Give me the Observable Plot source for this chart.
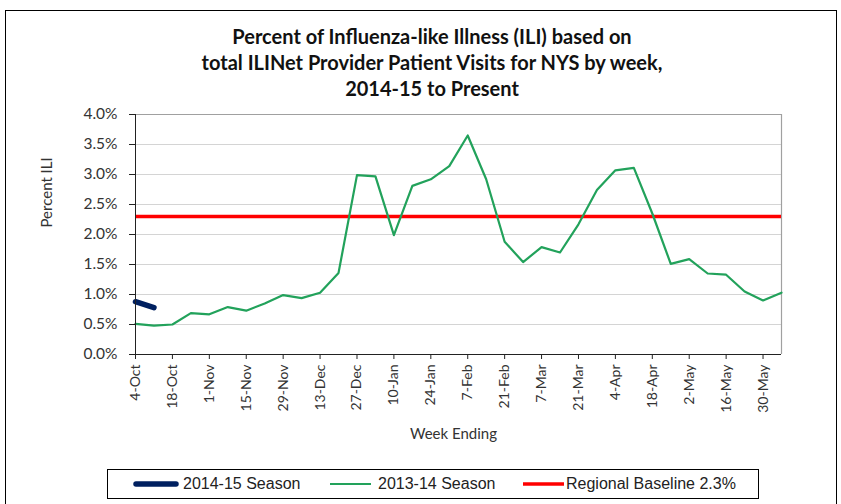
<!DOCTYPE html>
<html>
<head>
<meta charset="utf-8">
<script src="https://cdn.jsdelivr.net/npm/d3@7"></script>
<script src="https://cdn.jsdelivr.net/npm/@observablehq/plot@0.6"></script>
<style>
  html, body { margin: 0; padding: 0; background: #fff; }
  #wrap { position: relative; width: 841px; height: 504px; overflow: hidden; background: #fff; }
  #border { position: absolute; left: 5px; top: 10px; width: 832px; height: 520px; border: 1px solid #000; box-sizing: border-box; }
  #title { position: absolute; left: 0; width: 864px; top: 23px; text-align: center; font-family: Lato, "Open Sans", sans-serif; font-weight: bold; font-size: 20px; line-height: 26px; color: #111; }
  #chart { position: absolute; left: 0; top: 0; }
  #legend { position: absolute; left: 107px; top: 469px; width: 652px; height: 30px; border: 1px solid #000; box-sizing: border-box; font-family: "Liberation Sans", Arial, sans-serif; font-size: 16px; color: #222; }
  .sw { position: absolute; top: 9px; }
  .lt { position: absolute; top: 0; line-height: 28px; white-space: nowrap; }
</style>
</head>
<body>
<div id="wrap">
  <div id="border"></div>
  <div id="chart"></div>
  <div id="title">Percent of Influenza-like Illness (ILI) based on<br>total ILINet Provider Patient Visits for NYS by week,<br>2014-15 to Present</div>
  <div id="legend"></div>
</div>
<script>
// Week-ending categories (x axis)
const weeks = ["4-Oct","11-Oct","18-Oct","25-Oct","1-Nov","8-Nov","15-Nov","22-Nov","29-Nov","6-Dec",
  "13-Dec","20-Dec","27-Dec","3-Jan","10-Jan","17-Jan","24-Jan","31-Jan","7-Feb","14-Feb",
  "21-Feb","28-Feb","7-Mar","14-Mar","21-Mar","28-Mar","4-Apr","11-Apr","18-Apr","25-Apr",
  "2-May","9-May","16-May","23-May","30-May","6-Jun"];
// Tick labels shown on the x axis
const xTickLabels = ["4-Oct","18-Oct","1-Nov","15-Nov","29-Nov","13-Dec","27-Dec","10-Jan","24-Jan",
  "7-Feb","21-Feb","7-Mar","21-Mar","4-Apr","18-Apr","2-May","16-May","30-May"];
// 2013-14 season, percent ILI
const season1314 = [0.51,0.48,0.50,0.69,0.67,0.79,0.73,0.85,0.99,0.94,
  1.03,1.36,2.99,2.97,1.99,2.81,2.92,3.14,3.65,2.92,
  1.88,1.54,1.79,1.70,2.17,2.74,3.07,3.11,2.35,1.51,
  1.59,1.35,1.33,1.05,0.90,1.03];
// 2014-15 season, percent ILI
const season1415 = [0.88, 0.78];
const season1415Weeks = ["4-Oct","11-Oct"];
// Regional baseline
const baseline = [2.3];
// Y ticks
const yTicks = [0,0.5,1.0,1.5,2.0,2.5,3.0,3.5,4.0];

const seriesNames = ["2014-15 Season","2013-14 Season","Regional Baseline 2.3%"];
const colors = { blue: "#002060", green: "#22a25b", red: "#ff0000" };

const t1314 = weeks.map((w, i) => ({week: w, value: season1314[i]}));
const t1415 = season1415Weeks.map((w, i) => ({week: w, value: season1415[i]}));

const chart = Plot.plot({
  width: 841,
  height: 504,
  marginLeft: 135,
  marginRight: 60,
  marginTop: 114,
  marginBottom: 150,
  style: { fontFamily: "Lato, 'Open Sans', sans-serif", fontSize: "14px", color: "#333", background: "transparent", overflow: "visible" },
  x: { type: "point", domain: weeks, padding: 0, round: false },
  y: { domain: [0, 4] },
  marks: [
    Plot.ruleY(yTicks.filter(d => d > 0 && d < 4), { stroke: "#d4d4d4", strokeWidth: 1.2 }),
    Plot.ruleY([4], { stroke: "#a0a0a0", strokeWidth: 1.2 }),
    Plot.ruleX([weeks[weeks.length - 1]], { stroke: "#a0a0a0", strokeWidth: 1.2 }),
    Plot.ruleY(baseline, { stroke: colors.red, strokeWidth: 3.5 }),
    Plot.line(t1314, { x: "week", y: "value", stroke: colors.green, strokeWidth: 2.2 }),
    Plot.line(t1415, { x: "week", y: "value", stroke: colors.blue, strokeWidth: 5.5, strokeLinecap: "round" }),
    Plot.ruleY([0], { stroke: "#222", strokeWidth: 1 }),
    Plot.ruleX([weeks[0]], { stroke: "#222", strokeWidth: 1 }),
    Plot.axisY({ ticks: yTicks, tickFormat: d => d.toFixed(1) + "%", tickSize: 6, tickPadding: 12, label: null, fontSize: 15.5, stroke: "#222" }),
    Plot.axisX({ ticks: xTickLabels, tickRotate: -90, tickSize: 5, tickPadding: 5, label: null, fontSize: 14, stroke: "#222" }),
    Plot.text(["Percent ILI"], { frameAnchor: "left", dx: -88, dy: -7, rotate: -90, fontSize: 15, fill: "#333" }),
    Plot.text(["Week Ending"], { frameAnchor: "bottom", dx: -5, dy: 84, fontSize: 15, fill: "#333" })
  ]
});
document.getElementById("chart").appendChild(chart);

// Legend
const legend = document.getElementById("legend");
const legendItems = [
  { name: seriesNames[0], color: colors.blue, x1: 28, x2: 68, sw: 5.5, cap: "round", tx: 75 },
  { name: seriesNames[1], color: colors.green, x1: 222, x2: 263, sw: 2.2, cap: "butt", tx: 270 },
  { name: seriesNames[2], color: colors.red, x1: 415, x2: 456, sw: 3.5, cap: "butt", tx: 458 }
];
legendItems.forEach(it => {
  const s = document.createElementNS("http://www.w3.org/2000/svg", "svg");
  s.setAttribute("width", it.x2 + 6);
  s.setAttribute("height", 10);
  s.setAttribute("class", "sw");
  s.style.left = "0px";
  const l = document.createElementNS("http://www.w3.org/2000/svg", "line");
  l.setAttribute("x1", it.x1); l.setAttribute("x2", it.x2);
  l.setAttribute("y1", 5); l.setAttribute("y2", 5);
  l.setAttribute("stroke", it.color);
  l.setAttribute("stroke-width", it.sw);
  l.setAttribute("stroke-linecap", it.cap);
  s.appendChild(l);
  legend.appendChild(s);
  const t = document.createElement("span");
  t.className = "lt";
  t.style.left = it.tx + "px";
  t.textContent = it.name;
  legend.appendChild(t);
});
</script>
</body>
</html>
